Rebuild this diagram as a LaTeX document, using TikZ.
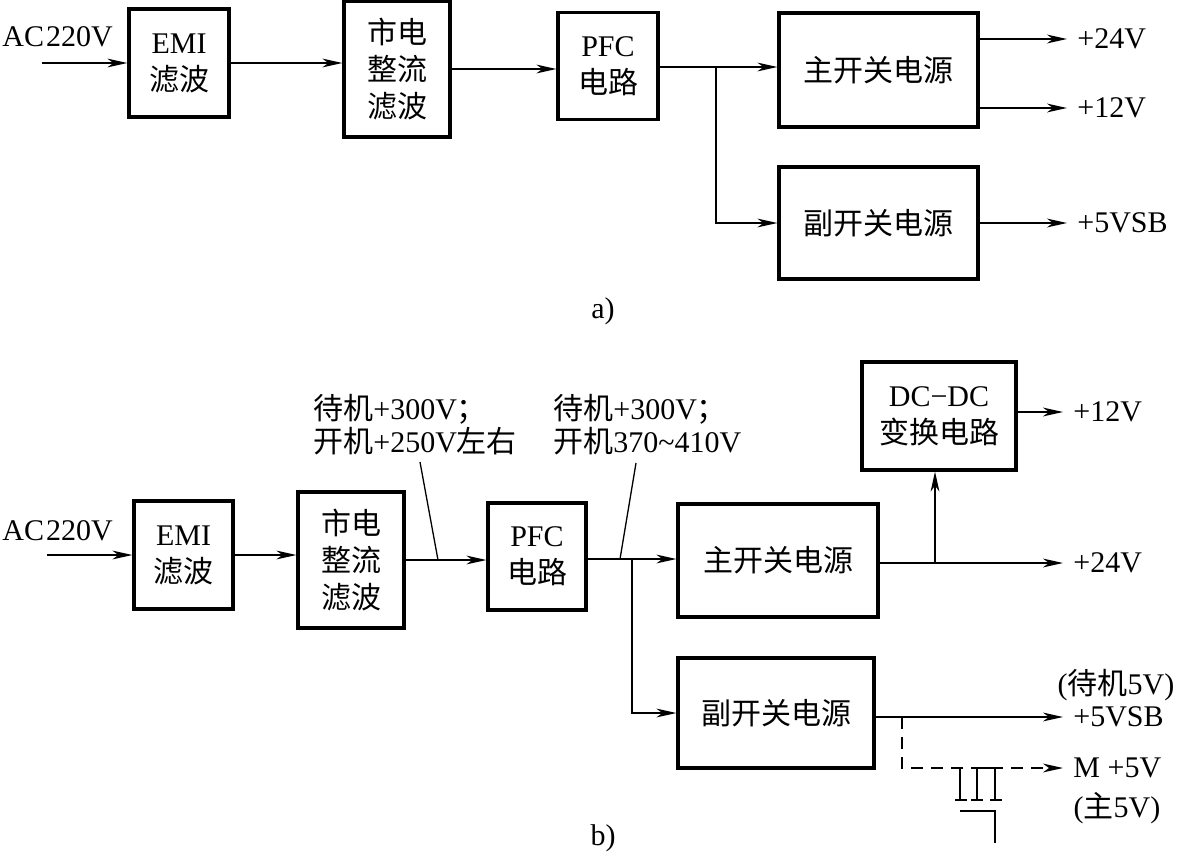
\documentclass[tikz,border=0pt]{standalone}
\usepackage{fontspec}
\setmainfont{Liberation Serif}
\newfontfamily\cjk{Noto Sans CJK SC}
\usetikzlibrary{arrows.meta}
\newcommand{\zh}[1]{{\cjk #1}}

\tikzset{
  blk/.style={draw, line width=1.6pt, align=center, inner sep=0pt},
  conn/.style={line width=0.75pt, -{Stealth[length=10pt,width=4.4pt,inset=3pt]}},
  lead/.style={line width=0.65pt},
  lbl/.style={inner xsep=5pt, inner ysep=0pt, anchor=west},
  note/.style={inner sep=0pt, align=left, anchor=west, font=\fontsize{15}{16.5}\selectfont}
}

\begin{document}
\begin{tikzpicture}[x=0.5pt, y=-0.5pt, font=\fontsize{15}{18.5}\selectfont]
     \useasboundingbox (0,0) rectangle (1182,856);
     % a)
     \node [lbl, inner xsep=0pt] (acA) at (2,37) {AC\kern1pt220V};
     \coordinate (inA) at (42,63);
     \node [blk, minimum width=50pt, minimum height=54pt] (emiA) at (179,63) {EMI\\\zh{滤波}};
     \node [blk, minimum width=53pt, minimum height=68pt] (rectA) at (397,69) {\zh{市电}\\\zh{整流}\\\zh{滤波}};
     \node [blk, minimum width=50pt, minimum height=53.5pt] (pfcA) at (608,66) {PFC\\\zh{电路}};
     \node [blk, minimum width=99.5pt, minimum height=57pt] (mainA) at (878.5,70) {\zh{主开关电源}};
     \node [blk, minimum width=99.5pt, minimum height=56pt] (auxA) at (878.5,223) {\zh{副开关电源}};
     \node [lbl] (v24A) at (1067,39) {+24V};
     \node [lbl] (v12A) at (1067,108) {+12V};
     \node [lbl] (v5A) at (1067,223) {+5VSB};
     \node (capA) at (603,311) {a)};
     \coordinate (jA) at (716,67);
     \draw [conn] (inA) -- (emiA.west);
     \draw [conn] (emiA.east) -- (emiA.east -| rectA.west);
     \draw [conn] (rectA.east) -- (rectA.east -| pfcA.west);
     \draw [lead] (pfcA.east |- jA) -- (jA);
     \draw [conn] (jA) -- (jA -| mainA.west);
     \draw [conn] (jA) |- (auxA.west);
     \draw [conn] (v24A.west -| mainA.east) -- (v24A.west);
     \draw [conn] (v12A.west -| mainA.east) -- (v12A.west);
     \draw [conn] (auxA.east) -- (v5A.west);
     % b)
     \node [lbl, inner xsep=0pt] (acB) at (2,531) {AC\kern1pt220V};
     \coordinate (inB) at (47,555);
     \node [blk, minimum width=49.5pt, minimum height=54pt] (emiB) at (183.5,555) {EMI\\\zh{滤波}};
     \node [blk, minimum width=53pt, minimum height=68pt] (rectB) at (351,560) {\zh{市电}\\\zh{整流}\\\zh{滤波}};
     \node [blk, minimum width=49pt, minimum height=53.5pt] (pfcB) at (537,556.5) {PFC\\\zh{电路}};
     \node [blk, minimum width=100pt, minimum height=56.5pt] (mainB) at (778,560.5) {\zh{主开关电源}};
     \node [blk, minimum width=77pt, minimum height=54pt] (dcB) at (939,416) {DC−DC\\\zh{变换电路}};
     \node [blk, minimum width=98pt, minimum height=55pt] (auxB) at (776,713) {\zh{副开关电源}};
     \node [note] (note1) at (313,424.5) {\zh{待机}+300V\zh{；}\\\zh{开机}+250V\zh{左右}};
     \node [note] (note2) at (553,424.5) {\zh{待机}+300V\zh{；}\\\zh{开机}370\char`\~410V};
     \node [lbl] (v12B) at (1063,412) {+12V};
     \node [lbl] (v24B) at (1063,563) {+24V};
     \node [lbl] (v5B) at (1063,717) {+5VSB};
     \node [lbl] (m5B) at (1063,768) {M +5V};
     \node (sbB) at (1116,685) {(\zh{待机}5V)};
     \node (mnB) at (1117,808) {(\zh{主}5V)};
     \node (capB) at (603,838) {b)};
     \coordinate (tap1) at (438,560);
     \coordinate (top1) at (420,462);
     \coordinate (jB) at (632,559);
     \coordinate (tap2) at (620,559);
     \coordinate (top2) at (636,463);
     \coordinate (jC) at (935,563);
     \coordinate (dsB) at (902,717);
     \draw [conn] (inB) -- (emiB.west);
     \draw [conn] (emiB.east) -- (emiB.east -| rectB.west);
     \draw [conn] (rectB.east) -- (rectB.east -| pfcB.west);
     \draw [lead] (tap1) -- (top1);
     \draw [lead] (pfcB.east |- jB) -- (jB);
     \draw [lead] (tap2) -- (top2);
     \draw [conn] (jB) -- (jB -| mainB.west);
     \draw [conn] (jB) |- (auxB.west);
     \draw [conn] (v24B.west -| mainB.east) -- (v24B.west);
     \draw [conn] (jC) -- (jC |- dcB.south);
     \draw [conn] (dcB.east |- v12B.west) -- (v12B.west);
     \draw [conn] (v5B.west -| auxB.east) -- (v5B.west);
     \draw [conn, dash pattern=on 6pt off 4pt] (dsB) |- (m5B.west);
     % switch
     \draw [lead] (977,768) -- (1003,768);
     \foreach \x in {960,977,995}
        \draw [lead] (\x,768) -- (\x,800);
     \foreach \x in {961,977,996}
        \draw [lead] (\x-6,800) -- (\x+6,800);
     \draw [lead] (960,811) -- (995,811) -- (995,843);
 \end{tikzpicture}
\end{document}
